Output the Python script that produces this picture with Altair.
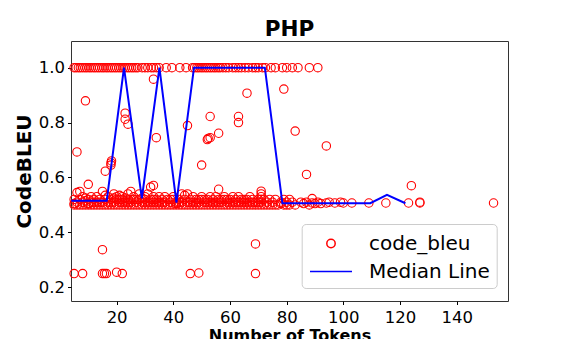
import altair as alt
import pandas as pd

# ---------------- data ----------------
series_names = ["code_bleu", "Median Line"]
x_ticks = [20, 40, 60, 80, 100, 120, 140]
y_ticks = [0.2, 0.4, 0.6, 0.8, 1.0]

# points sitting at CodeBLEU = 1.0
top_tokens = [5, 5.7, 6.5, 7.2, 8, 8.8, 9.5, 10.3, 11, 11.8, 12.5, 13.3, 14, 14.8,
              15.5, 16.3, 17, 17.8, 18.5, 19.3, 20, 20.8, 21.5, 22.3, 23, 23.8,
              24.5, 25.3, 26, 26.8, 27.5, 29, 30, 31, 32.2, 33, 34, 35, 37.5,
              39.5, 42.3, 44.5, 46.8, 47.5, 48.3, 49, 49.8, 50.5, 51.3, 52,
              52.8, 53.5, 54.3, 55, 55.8, 56.5, 57.5, 58.5, 59.5, 61, 62, 63,
              64, 65.3, 66.5, 68, 69, 70, 71.5, 72.5, 74.5, 76, 78.5, 80, 82,
              84, 88, 91]

# dense band around 0.5 (token count -> scores at that count)
cluster_tokens = [5, 6, 7, 8, 9, 10, 11, 12, 13, 14, 15, 16, 17, 18, 19, 20,
                  21, 22, 23, 24, 25, 26, 27, 28, 29, 30, 31, 32, 33, 34, 35,
                  36, 37, 38, 39, 40, 41, 42, 43, 44, 45, 46, 47, 48, 49, 50,
                  51, 52, 53, 54, 55, 56, 57, 58, 59, 60, 61, 62, 63, 64, 65,
                  66, 67, 68, 69, 70, 71, 72, 73, 74, 75, 76, 77, 78, 79, 80,
                  81, 82, 83, 85, 86, 87, 88, 89, 90, 91, 92, 94, 95, 97, 99,
                  100, 103, 109, 115, 123, 127, 153]
cluster_scores = [
    [0.50, 0.52, 0.505], [0.51, 0.545, 0.50], [0.50, 0.549, 0.52], [0.51, 0.53, 0.50],
    [0.50, 0.515, 0.525], [0.505, 0.52, 0.50], [0.50, 0.51, 0.53], [0.52, 0.50, 0.51],
    [0.51, 0.53, 0.50], [0.50, 0.52, 0.51], [0.549, 0.51, 0.50], [0.52, 0.50, 0.535],
    [0.51, 0.53, 0.50], [0.50, 0.52, 0.51], [0.50, 0.54, 0.51, 0.525], [0.52, 0.50, 0.53],
    [0.51, 0.50, 0.535, 0.52], [0.52, 0.50, 0.53, 0.51], [0.51, 0.50, 0.525], [0.52, 0.50, 0.54, 0.51],
    [0.549, 0.51, 0.50, 0.52], [0.52, 0.50, 0.53], [0.51, 0.50, 0.52], [0.52, 0.50, 0.54],
    [0.525, 0.50, 0.51], [0.53, 0.50, 0.52, 0.51], [0.51, 0.50, 0.54], [0.565, 0.52, 0.50, 0.51],
    [0.51, 0.50, 0.53, 0.52], [0.52, 0.50, 0.51], [0.51, 0.50, 0.53], [0.52, 0.50, 0.51],
    [0.51, 0.53, 0.50], [0.50, 0.52], [0.51, 0.50, 0.52], [0.52, 0.50, 0.53],
    [0.51, 0.50, 0.505], [0.50, 0.52, 0.51], [0.51, 0.50, 0.54], [0.52, 0.50, 0.535],
    [0.54, 0.51, 0.50], [0.52, 0.50, 0.51], [0.51, 0.53, 0.50], [0.50, 0.52, 0.51],
    [0.51, 0.50, 0.52], [0.52, 0.50, 0.53], [0.51, 0.50, 0.52], [0.52, 0.50, 0.51],
    [0.51, 0.50, 0.53], [0.52, 0.50, 0.51], [0.51, 0.50, 0.53], [0.52, 0.50, 0.51],
    [0.51, 0.50, 0.52], [0.52, 0.50, 0.53], [0.51, 0.50, 0.52], [0.50, 0.52, 0.51],
    [0.51, 0.53, 0.50], [0.52, 0.50, 0.51], [0.51, 0.50, 0.53], [0.52, 0.50, 0.51],
    [0.51, 0.50, 0.52], [0.52, 0.50, 0.51], [0.51, 0.50, 0.53], [0.50, 0.52, 0.51],
    [0.51, 0.50], [0.52, 0.50, 0.51], [0.55, 0.54, 0.53, 0.52, 0.51, 0.50], [0.52, 0.50],
    [0.51, 0.50], [0.52, 0.50], [0.50, 0.51], [0.52, 0.50],
    [0.50], [0.51, 0.505], [0.52, 0.50], [0.51, 0.50],
    [0.52, 0.50], [0.51], [0.50], [0.51],
    [0.505], [0.51], [0.50], [0.523, 0.507],
    [0.505], [0.51], [0.505], [0.507],
    [0.51], [0.507], [0.51], [0.507],
    [0.507], [0.507], [0.507], [0.507],
    [0.507, 0.51], [0.507],
]

# scattered points away from the two bands
outlier_tokens = [5, 8, 15, 15.7, 16.4, 20, 22, 46, 49, 69, 15, 69,
                  6, 9, 10, 16, 18, 18, 18.2, 23, 23, 24, 33, 33, 34, 45,
                  50, 52, 52.3, 53, 53, 56, 56, 63, 63, 66, 79, 83, 87, 94, 124]
outlier_scores = [0.25, 0.25, 0.25, 0.25, 0.25, 0.255, 0.25, 0.25, 0.252, 0.25, 0.337, 0.358,
                  0.693, 0.879, 0.575, 0.623, 0.645, 0.653, 0.66, 0.834, 0.812, 0.794, 0.958, 0.571, 0.745, 0.789,
                  0.645, 0.738, 0.742, 0.745, 0.822, 0.761, 0.557, 0.822, 0.80, 0.907, 0.922, 0.769, 0.611, 0.715, 0.570]

# median line vertices
median_tokens = [4.0, 16.5, 22.6, 28.9, 35.1, 41.1, 47.3, 72.3, 78.5, 109.5, 115.4, 121.9]
median_scores = [0.515, 0.515, 1.0, 0.524, 1.0, 0.508, 1.0, 1.0, 0.506, 0.506, 0.537, 0.506]

# ---------------- tables ----------------
rows = [(t, 1.0) for t in top_tokens]
for t, ys in zip(cluster_tokens, cluster_scores):
    rows += [(t, v) for v in ys]
rows += list(zip(outlier_tokens, outlier_scores))
points = pd.DataFrame(rows, columns=["tokens", "score"])
points["series"] = series_names[0]
median = pd.DataFrame({"tokens": median_tokens, "score": median_scores})
median["series"] = series_names[1]

CIRCLE = "M-0.336,0A0.336,0.336 0 1,0 0.336,0A0.336,0.336 0 1,0 -0.336,0Z"
LINE = "M-1.68,0L1.68,0"
FONT = "DejaVu Sans"

x_enc = alt.X("tokens:Q",
              scale=alt.Scale(domain=[3.9, 158.1], nice=False, zero=False),
              axis=alt.Axis(values=x_ticks, title="Number of Tokens", format="d",
                            titleFontSize=16, titleFontWeight="bold",
                            labelPadding=5, titlePadding=1))
y_enc = alt.Y("score:Q",
              scale=alt.Scale(domain=[0.150, 1.097], nice=False, zero=False),
              axis=alt.Axis(values=y_ticks, format=".1f", title="CodeBLEU",
                            titleFontSize=20, titleFontWeight="bold",
                            labelPadding=3, titlePadding=4))
color_scale = alt.Scale(domain=series_names, range=["#ff0000", "#0000ff"])

pts = alt.Chart(points).mark_point(
    filled=False, opacity=1, size=625, strokeWidth=1.1
).encode(
    x=x_enc, y=y_enc,
    color=alt.Color("series:N", scale=color_scale, title=None),
    shape=alt.Shape("series:N", scale=alt.Scale(domain=series_names, range=[CIRCLE, LINE]), title=None),
)

ln = alt.Chart(median).mark_line(strokeWidth=2).encode(
    x="tokens:Q", y="score:Q",
    color=alt.Color("series:N", scale=color_scale, title=None),
)

chart = alt.layer(pts, ln).properties(
    width=437, height=260,
    autosize=alt.AutoSizeParams(type="none"),
    padding={"left": 63, "top": 33, "right": 49, "bottom": 38},
    title=alt.Title("PHP", fontSize=21.5, fontWeight="bold", font=FONT, color="#000",
                    anchor="middle", offset=1),
).configure(font=FONT).configure_view(
    stroke="#333333", strokeWidth=1
).configure_axis(
    domain=False, grid=False, tickColor="#000", tickSize=3.5, tickWidth=1,
    labelFontSize=16.5, labelColor="#000", titleColor="#000", labelFont=FONT, titleFont=FONT
).configure_legend(
    orient="none", legendX=230.7, legendY=183, padding=6,
    strokeColor="#cccccc", fillColor="rgba(255,255,255,0.8)", cornerRadius=4,
    symbolSize=625, symbolStrokeWidth=1.5, symbolOpacity=1,
    symbolOffset=9.8, labelOffset=24.5, rowPadding=4,
    labelFontSize=20, labelFont=FONT, labelColor="#000", labelLimit=300
)

chart.save("out.html", embed_options={"renderer": "svg", "actions": False})
